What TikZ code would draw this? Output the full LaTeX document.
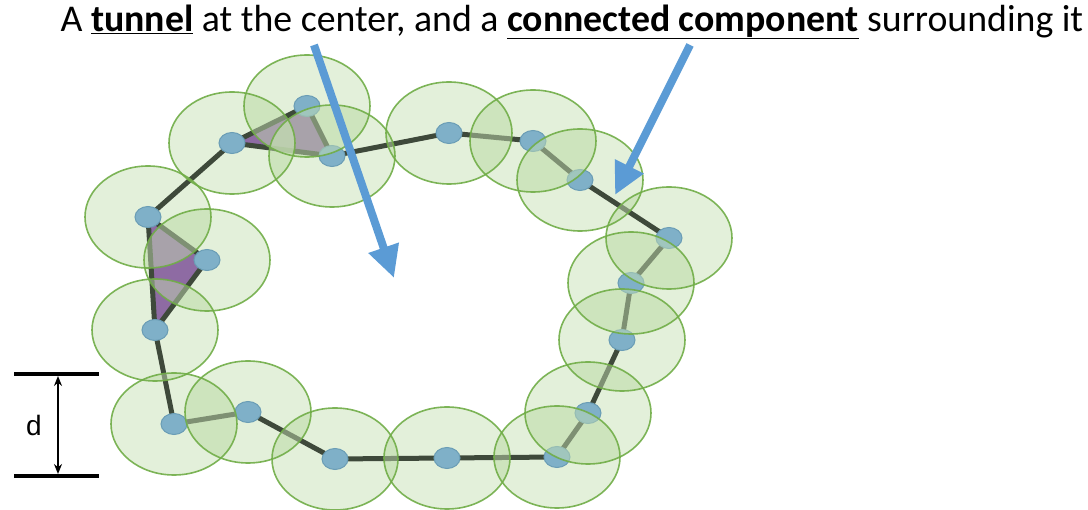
\documentclass[tikz,border=0pt]{standalone}
\usepackage{fontspec}
\setmainfont{Carlito}
\newfontfamily\arialf{Liberation Sans}
\usetikzlibrary{arrows.meta,shapes.geometric}
\definecolor{edgec}{HTML}{3E493A}
\definecolor{dotc}{HTML}{7FB0C8}
\definecolor{dotb}{HTML}{6A9DB5}
\definecolor{triC}{HTML}{8E6BA3}
\definecolor{ringC}{HTML}{70AD47}
\definecolor{ringF}{HTML}{C5DFB2}
\definecolor{arrC}{HTML}{5B9BD5}
\tikzset{
  dot/.style={ellipse, draw=dotb, fill=dotc, line width=1pt, minimum width=26pt, minimum height=21pt, inner sep=0pt},
  link/.style={draw=edgec, line width=5pt},
  tri/.style={fill=triC},
  ringfill/.style={fill=ringF, fill opacity=0.48},
  ringline/.style={draw=ringC, line width=1.6pt, draw opacity=0.9},
  bigarrow/.style={draw=arrC, line width=8pt, -{Triangle[length=32pt,width=30pt]}},
  dimbar/.style={line width=4pt, black},
  dimarrow/.style={line width=1.6pt, {Stealth[length=10pt,width=8pt]}-{Stealth[length=10pt,width=8pt]}}
}
\begin{document}
\begin{tikzpicture}[x=1pt,y=-1pt]
\useasboundingbox (0,0) rectangle (1088,510);
\coordinate (p1) at (232,143);
\coordinate (p2) at (307,106);
\coordinate (p3) at (332,156);
\coordinate (p4) at (449,133);
\coordinate (p5) at (533,141);
\coordinate (p6) at (580,180);
\coordinate (p7) at (669,238);
\coordinate (p8) at (631,283);
\coordinate (p9) at (622,340);
\coordinate (p10) at (588,413);
\coordinate (p11) at (557,457);
\coordinate (p12) at (447,458);
\coordinate (p13) at (335,459);
\coordinate (p14) at (248,412);
\coordinate (p15) at (174,424);
\coordinate (p16) at (155,330);
\coordinate (p17) at (207,260);
\coordinate (p18) at (148,217);
% ring fills, first layer
\foreach \i in {1,...,18} { \path[ringfill] (p\i) ellipse [x radius=63pt, y radius=51pt]; }
% triangles
\fill[tri] (p1) -- (p2) -- (p3) -- cycle;
\fill[tri] (p18) -- (p17) -- (p16) -- cycle;
% edges
\draw[link] (p18) -- (p1) -- (p2) -- (p3) -- (p4) -- (p5) -- (p6) -- (p7) -- (p8) -- (p9) -- (p10) -- (p11) -- (p12) -- (p13) -- (p14) -- (p15) -- (p16) -- (p17) -- (p18);
\draw[link] (p1) -- (p3);
\draw[link] (p18) -- (p16);
% dots
\foreach \i in {1,...,18} { \node[dot] (n\i) at (p\i) {}; }
% second layer: overlaps of neighbouring rings
\foreach \a/\b in {1/2,2/3,1/3,3/4,4/5,5/6,6/7,7/8,8/9,9/10,10/11,11/12,12/13,13/14,14/15,15/16,16/17,17/18,18/1} {
  \begin{scope}
    \clip (p\a) ellipse [x radius=63pt, y radius=51pt];
    \path[ringfill] (p\b) ellipse [x radius=63pt, y radius=51pt];
  \end{scope}
}
% ring outlines
\foreach \i in {1,...,18} { \path[ringline] (p\i) ellipse [x radius=63pt, y radius=51pt]; }
% big arrows
\coordinate (a1s) at (314,45);
\coordinate (a1e) at (394,278);
\coordinate (a2s) at (690,45);
\coordinate (a2e) at (615,195);
\draw[bigarrow] (a1s) -- (a1e);
\draw[bigarrow] (a2s) -- (a2e);
% dimension
\coordinate (d1l) at (14,374);
\coordinate (d1r) at (99,374);
\coordinate (d2l) at (14,476);
\coordinate (d2r) at (99,476);
\coordinate (dt) at (58,376);
\coordinate (db) at (58,474);
\draw[dimbar] (d1l) -- (d1r);
\draw[dimbar] (d2l) -- (d2r);
\draw[dimarrow] (dt) -- (db);
\node[font=\arialf\fontsize{28}{30}\selectfont] (dlab) at (34,425) {d};
% title
\node[font=\fontsize{37.8}{40}\selectfont, anchor=center, inner sep=0pt] (title) at (572,22) {A \underline{\textbf{tunnel}} at the center, and a \underline{\textbf{connected component}} surrounding it};
\end{tikzpicture}
\end{document}
